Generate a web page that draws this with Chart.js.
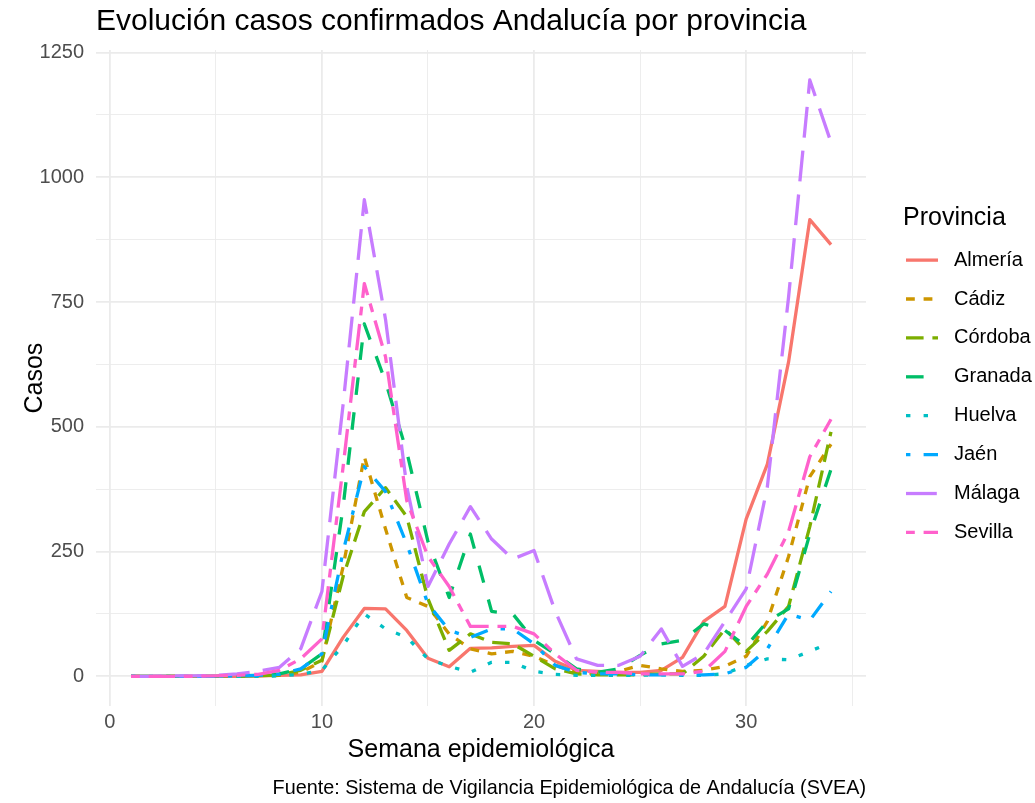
<!DOCTYPE html>
<html lang="es">
<head>
<meta charset="utf-8">
<title>Evolución casos confirmados Andalucía por provincia</title>
<script src="https://cdn.jsdelivr.net/npm/chart.js@4.4.1/dist/chart.umd.min.js"></script>
<style>
  html, body { margin: 0; padding: 0; background: #fff; }
  #wrap { width: 1035px; height: 803px; }
</style>
</head>
<body>
<div id="wrap"><canvas id="casosChart" width="1035" height="803"></canvas></div>
<script>
// Semana epidemiológica 1..34
const semanas = [1, 2, 3, 4, 5, 6, 7, 8, 9, 10, 11, 12, 13, 14, 15, 16, 17,
                 18, 19, 20, 21, 22, 23, 24, 25, 26, 27, 28, 29, 30, 31, 32, 33, 34];

const provincias = ['Almería', 'Cádiz', 'Córdoba', 'Granada', 'Huelva', 'Jaén', 'Málaga', 'Sevilla'];

// casos confirmados por semana
const almeria = [0, 0, 0, 0, 0, 0, 1, 2, 3, 10, 78, 136, 135, 92, 36, 19, 56,
                 57, 60, 62, 30, 12, 10, 8, 8, 12, 38, 110, 140, 315, 425, 630, 915, 865];
const cadiz   = [0, 0, 0, 0, 0, 0, 1, 2, 8, 30, 220, 440, 295, 158, 140, 85, 55,
                 45, 50, 40, 22, 8, 5, 10, 22, 15, 10, 12, 20, 40, 110, 240, 400, 465];
const cordoba = [0, 0, 0, 0, 0, 1, 1, 3, 12, 32, 200, 330, 378, 320, 155, 52, 85,
                 68, 65, 40, 15, 5, 3, 3, 3, 5, 5, 40, 95, 50, 90, 140, 300, 490];
const granada = [0, 0, 0, 0, 0, 1, 2, 5, 15, 45, 340, 706, 590, 450, 270, 158, 285,
                 130, 125, 72, 45, 15, 8, 15, 42, 65, 72, 105, 92, 60, 110, 135, 285, 415];
const huelva  = [0, 0, 0, 0, 0, 0, 0, 1, 4, 12, 62, 125, 95, 78, 35, 20, 8,
                 28, 28, 10, 4, 2, 2, 2, 2, 3, 2, 2, 5, 22, 35, 33, 50, 68];
const jaen    = [0, 0, 0, 0, 0, 1, 2, 4, 15, 45, 250, 420, 370, 265, 145, 92, 78,
                 95, 95, 65, 22, 8, 5, 5, 3, 3, 3, 3, 5, 18, 55, 125, 112, 170];
const malaga  = [0, 0, 1, 1, 2, 5, 10, 18, 55, 170, 545, 955, 715, 380, 180, 265, 340,
                 275, 235, 252, 130, 35, 22, 22, 40, 95, 20, 45, 110, 175, 380, 760, 1195, 1070];
const sevilla = [0, 0, 0, 0, 1, 2, 4, 12, 35, 75, 420, 787, 640, 352, 240, 180, 100,
                 100, 100, 85, 45, 12, 8, 8, 5, 5, 5, 10, 50, 140, 205, 290, 440, 515];

const series = [almeria, cadiz, cordoba, granada, huelva, jaen, malaga, sevilla];

// colores y tipos de linea de ggplot
const colores = ['#F8766D', '#CD9600', '#7CAE00', '#00BE67', '#00BFC4', '#00A9FF', '#C77CFF', '#FF61CC'];
const u = 4.4;
const trazos = [
  [],
  [2 * u, 2 * u],
  [4 * u, 2 * u],
  [4 * u, 4 * u],
  [1 * u, 3 * u],
  [1 * u, 3 * u, 4 * u, 3 * u],
  [7 * u, 3 * u],
  [2 * u, 2 * u, 6 * u, 2 * u]
];

const FONT = "'Liberation Sans', Arial, Helvetica, sans-serif";
Chart.defaults.font.family = FONT;

const leyendaProvincias = {
  id: 'leyendaProvincias',
  afterDraw(chart) {
    const ctx = chart.ctx;
    const area = chart.chartArea;
    const x0 = area.right + 37;
    const mid = (area.top + area.bottom) / 2;
    ctx.save();
    ctx.textBaseline = 'middle';
    ctx.textAlign = 'left';
    ctx.fillStyle = '#000000';
    ctx.font = '25px ' + FONT;
    ctx.fillText('Provincia', x0, mid - 160);
    chart.data.datasets.forEach((ds, i) => {
      const y = mid - 118 + i * 38.9;
      ctx.beginPath();
      ctx.lineWidth = ds.borderWidth;
      ctx.lineCap = 'butt';
      ctx.strokeStyle = ds.borderColor;
      ctx.setLineDash(ds.borderDash);
      ctx.moveTo(x0 + 3, y);
      ctx.lineTo(x0 + 35, y);
      ctx.stroke();
      ctx.setLineDash([]);
      ctx.fillStyle = '#000000';
      ctx.font = '20px ' + FONT;
      ctx.fillText(ds.label, x0 + 51, y);
    });
    ctx.restore();
  }
};

const datasets = provincias.map((nombre, i) => ({
  label: nombre,
  data: semanas.map((s, j) => ({ x: s, y: series[i][j] })),
  borderColor: colores[i],
  backgroundColor: colores[i],
  borderWidth: 3.3,
  borderDash: trazos[i],
  borderCapStyle: 'butt',
  borderJoinStyle: 'round',
  pointRadius: 0,
  pointHoverRadius: 0,
  tension: 0,
  fill: false,
  order: provincias.length - i
}));

const ctx = document.getElementById('casosChart').getContext('2d');
new Chart(ctx, {
  type: 'line',
  data: { datasets },
  plugins: [leyendaProvincias],
  options: {
    responsive: false,
    animation: false,
    devicePixelRatio: 1,
    layout: { padding: { left: 0, right: 169, top: 0, bottom: 0 } },
    plugins: {
      legend: { display: false },
      tooltip: { enabled: false },
      title: {
        display: true,
        text: 'Evolución casos confirmados Andalucía por provincia',
        align: 'start',
        fullSize: false,
        color: '#000000',
        font: { size: 30, weight: 'normal' },
        padding: { top: 4, bottom: 10 }
      },
      subtitle: {
        display: true,
        position: 'bottom',
        align: 'end',
        fullSize: false,
        text: 'Fuente: Sistema de Vigilancia Epidemiológica de Andalucía (SVEA)',
        color: '#000000',
        font: { size: 19.8, weight: 'normal' },
        padding: { top: 0, bottom: 3 }
      }
    },
    scales: {
      x: {
        type: 'linear',
        min: -0.65,
        max: 35.65,
        afterFit: (scale) => { scale.height = 70; },
        border: { display: false },
        grid: {
          drawTicks: false,
          color: '#EBEBEB',
          lineWidth: (c) => (c.tick && c.tick.value % 10 === 0 ? 1.8 : 0.9)
        },
        ticks: {
          stepSize: 5,
          includeBounds: false,
          autoSkip: false,
          maxRotation: 0,
          padding: 4,
          color: '#4D4D4D',
          font: { size: 20 },
          callback: (v) => (v % 10 === 0 ? String(v) : '')
        },
        title: {
          display: true,
          text: 'Semana epidemiológica',
          color: '#000000',
          font: { size: 25 },
          padding: { top: 0, bottom: 11 }
        }
      },
      y: {
        type: 'linear',
        min: -60,
        max: 1255,
        afterFit: (scale) => { scale.width = 96; },
        border: { display: false },
        grid: {
          drawTicks: false,
          color: '#EBEBEB',
          lineWidth: (c) => (c.tick && c.tick.value % 250 === 0 ? 1.8 : 0.9)
        },
        ticks: {
          stepSize: 125,
          includeBounds: false,
          autoSkip: false,
          padding: 12,
          color: '#4D4D4D',
          font: { size: 20 },
          callback: (v) => (v % 250 === 0 ? String(v) : '')
        },
        title: {
          display: true,
          text: 'Casos',
          color: '#000000',
          font: { size: 25 },
          padding: { top: 20, bottom: 0 }
        }
      }
    }
  }
});
</script>
</body>
</html>
